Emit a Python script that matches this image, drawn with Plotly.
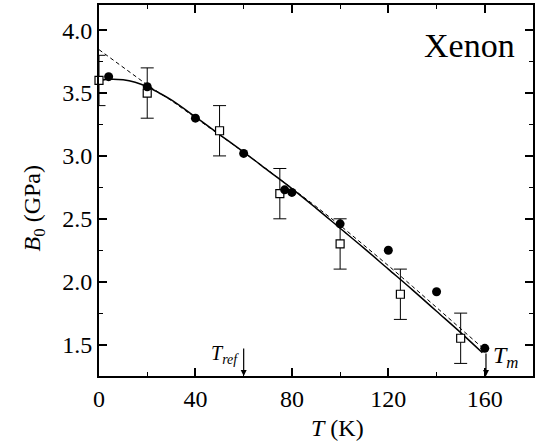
import plotly.graph_objects as go

# Data
circ_T = [4, 20, 40, 60, 77, 80, 100, 120, 140, 160]
circ_B = [3.63, 3.55, 3.30, 3.02, 2.73, 2.71, 2.46, 2.25, 1.92, 1.47]

sq_T = [0, 20, 50, 75, 100, 125, 150]
sq_B = [3.60, 3.50, 3.20, 2.70, 2.30, 1.90, 1.55]
sq_err = [0.2, 0.2, 0.2, 0.2, 0.2, 0.2, 0.2]

solid_T = [0, 5, 10, 15, 20, 25, 30, 40, 50, 60, 70, 80, 90, 100, 110, 120, 130, 140, 150, 159]
solid_B = [3.60, 3.61, 3.605, 3.585, 3.55, 3.50, 3.445, 3.31, 3.17, 3.03, 2.885, 2.74, 2.585,
           2.425, 2.265, 2.10, 1.935, 1.765, 1.595, 1.435]

dash_T = [0, 10, 20, 30, 40, 50, 60, 70, 80, 90, 100, 110, 120, 130, 140, 150, 160.5]
dash_B = [3.845, 3.705, 3.565, 3.44, 3.305, 3.168, 3.03, 2.888, 2.745, 2.598, 2.448, 2.29,
          2.128, 1.963, 1.795, 1.624, 1.45]

x_ticks = [0, 40, 80, 120, 160]
y_ticks = [1.5, 2.0, 2.5, 3.0, 3.5, 4.0]

FONT = "Liberation Serif"

fig = go.Figure()
fig.add_trace(go.Scatter(x=dash_T, y=dash_B, mode="lines",
                         line=dict(color="black", width=1, dash="4px,3px"), showlegend=False))
fig.add_trace(go.Scatter(x=solid_T, y=solid_B, mode="lines", line_shape="spline",
                         line=dict(color="black", width=1.5), showlegend=False))
fig.add_trace(go.Scatter(x=sq_T, y=sq_B, mode="markers",
                         marker=dict(symbol="square", size=8, color="white",
                                     line=dict(color="black", width=1.2)),
                         error_y=dict(type="data", array=sq_err, visible=True,
                                      color="black", thickness=1, width=6.5),
                         showlegend=False, cliponaxis=False))
fig.add_trace(go.Scatter(x=circ_T, y=circ_B, mode="markers",
                         marker=dict(symbol="circle", size=9, color="black"),
                         showlegend=False, cliponaxis=False))

axis_common = dict(showline=True, linecolor="black", linewidth=2, mirror="allticks",
                   ticks="inside", ticklen=8, tickwidth=1.5, tickcolor="black",
                   showgrid=False, zeroline=False,
                   tickfont=dict(family=FONT, size=24, color="black"))

fig.update_xaxes(range=[0, 180], tickvals=x_ticks,
                 minor=dict(dtick=20, tick0=0, ticks="inside", ticklen=4, tickwidth=1.2,
                            tickcolor="black", showgrid=False),
                 **axis_common)
fig.update_yaxes(range=[1.25, 4.2], tickvals=y_ticks, tickformat=".1f",
                 minor=dict(dtick=0.25, tick0=0, ticks="inside", ticklen=4, tickwidth=1.2,
                            tickcolor="black", showgrid=False),
                 **axis_common)

# arrows
fig.add_annotation(x=60, y=1.25, ax=60, ay=1.48, xref="x", yref="y", axref="x", ayref="y",
                   text="", showarrow=True, arrowhead=2, arrowsize=1, arrowwidth=1.2,
                   arrowcolor="black")
fig.add_annotation(x=160.5, y=1.25, ax=160.5, ay=1.44, xref="x", yref="y", axref="x", ayref="y",
                   text="", showarrow=True, arrowhead=2, arrowsize=1, arrowwidth=1.2,
                   arrowcolor="black")

fig.add_annotation(x=52.4, y=1.42, xref="x", yref="y", showarrow=False,
                   xanchor="center", yanchor="middle",
                   text="<i>T</i><sub><i>ref</i></sub>",
                   font=dict(family=FONT, size=20, color="black"))
fig.add_annotation(x=168.7, y=1.405, xref="x", yref="y", showarrow=False,
                   xanchor="center", yanchor="middle",
                   text="<i>T</i><sub><i>m</i></sub>",
                   font=dict(family=FONT, size=24, color="black"))
fig.add_annotation(x=153.8, y=3.88, xref="x", yref="y", showarrow=False,
                   xanchor="center", yanchor="middle",
                   text="Xenon", font=dict(family=FONT, size=34, color="black"))

# axis titles
fig.add_annotation(x=99, y=-0.14, xref="x", yref="paper", showarrow=False,
                   xanchor="center", yanchor="middle",
                   text="<i>T</i> (K)", font=dict(family=FONT, size=24, color="black"))
fig.add_annotation(x=-0.151, y=0.453, xref="paper", yref="paper", showarrow=False,
                   xanchor="center", yanchor="middle",
                   textangle=-90, text="<i>B</i><sub>0</sub> (GPa)",
                   font=dict(family=FONT, size=24, color="black"))

fig.update_layout(width=537, height=443, margin=dict(l=99, r=2, t=5, b=67),
                  paper_bgcolor="white", plot_bgcolor="white")

fig.write_html("out.html", config={"displayModeBar": False},
               post_script="document.body.style.margin='0px';")
